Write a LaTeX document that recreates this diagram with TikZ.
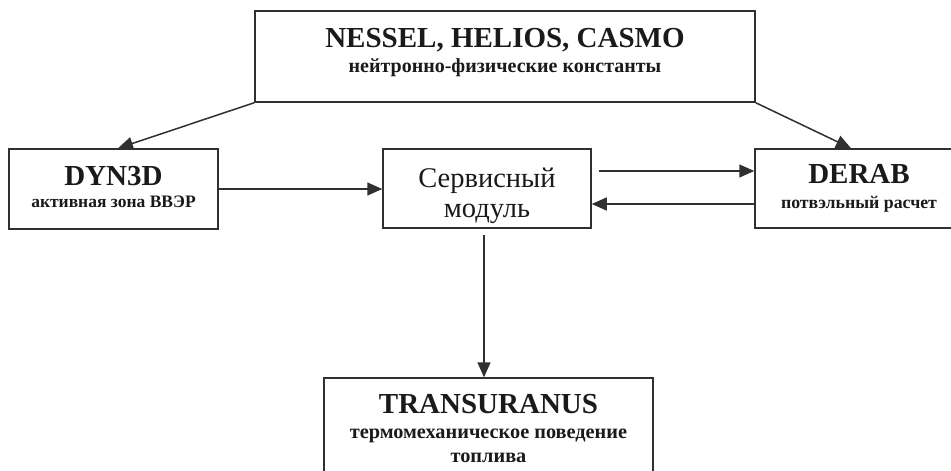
\documentclass[tikz,border=0pt]{standalone}
\usepackage{fontspec}
\setmainfont{Liberation Serif}
\usetikzlibrary{arrows.meta}
\definecolor{ln}{HTML}{303030}
\definecolor{tx}{HTML}{1A1A1A}
\begin{document}
\begin{tikzpicture}[x=1pt,y=-1pt,
  box/.style={draw=ln,line width=1.5pt,fill=none,inner sep=0pt,minimum width=#1},
  lbl/.style={inner sep=0pt,anchor=base,text=tx},
  ttl/.style={lbl,font=\fontsize{29}{29}\selectfont\bfseries},
  sub/.style={lbl,font=\fontsize{#1}{#1}\selectfont\bfseries},
  arr/.style={draw=ln,line width=1.5pt,-{Triangle[length=15pt,width=13pt]}}]
\useasboundingbox[fill=white] (0,0) rectangle (951,471);
% boxes
\node[box=500pt,minimum height=91pt] (top) at (505,56.5) {};
\node[box=209pt,minimum height=80pt] (dyn) at (113.5,189) {};
\node[box=208pt,minimum height=79pt] (serv) at (487,188.5) {};
\node[box=208pt,minimum height=79pt] (derab) at (859,188.5) {};
\node[box=329pt,minimum height=122pt] (trans) at (488.5,439) {};
% texts
\node[ttl] (t1) at (505,47) {NESSEL, HELIOS, CASMO};
\node[sub=20] (t2) at (505,72) {нейтронно-физические константы};
\node[ttl] (d1) at (113.5,185) {DYN3D};
\node[sub=17.5] (d2) at (113.5,207) {активная зона ВВЭР};
\node[lbl,font=\fontsize{28.5}{28.5}\selectfont] (s1) at (487,187) {Сервисный};
\node[lbl,font=\fontsize{28.5}{28.5}\selectfont] (s2) at (487,217) {модуль};
\node[ttl] (r1) at (859,183) {DERAB};
\node[sub=17.8] (r2) at (859,208) {потвэльный расчет};
\node[ttl] (u1) at (488.5,413) {TRANSURANUS};
\node[sub=20.3] (u2) at (488.5,438) {термомеханическое поведение};
\node[sub=20.3] (u3) at (488.5,462) {топлива};
% connectors
\coordinate (a1) at ([xshift=4.5pt]dyn.north);
\coordinate (a2) at ([xshift=-8pt]derab.north);
\draw[arr] (top.south west) -- (a1);
\draw[arr] (top.south east) -- (a2);
\draw[arr] (dyn.east) -- (serv.west |- dyn.east);
\coordinate (b1) at ([xshift=7pt]serv.east |- 0,171);
\draw[arr] (b1) -- (derab.west |- b1);
\coordinate (b2) at (derab.west |- 0,204);
\draw[arr] (b2) -- (serv.east |- b2);
\coordinate (c1) at ([xshift=-3pt,yshift=-6pt]serv.south);
\draw[arr] (c1) -- (c1 |- trans.north);
\end{tikzpicture}
\end{document}
